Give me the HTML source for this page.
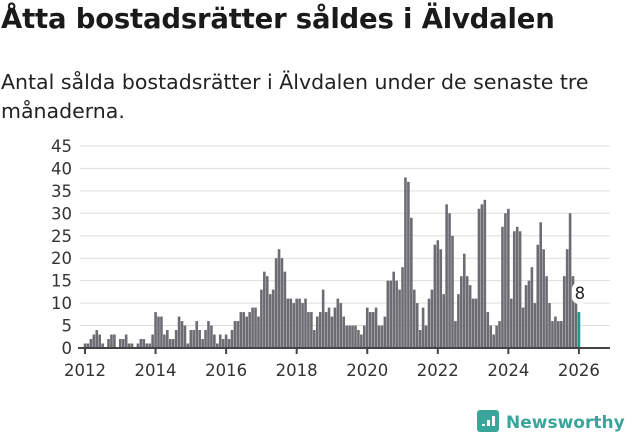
<!DOCTYPE html>
<html><head><meta charset="utf-8"><style>
body{margin:0;width:631px;height:439px;background:#fff;font-family:"DejaVu Sans","Liberation Sans",sans-serif;overflow:hidden;position:relative}
h1{position:absolute;left:1px;top:3px;margin:0;font-size:27.5px;font-weight:bold;color:#1a1a1a;letter-spacing:-0.2px}
p{position:absolute;left:1px;top:68px;margin:0;font-size:20.5px;line-height:29px;color:#222;width:628px}
svg{position:absolute;left:0;top:0}
</style></head><body>
<h1>Åtta bostadsrätter såldes i Älvdalen</h1>
<p>Antal sålda bostadsrätter i Älvdalen under de senaste tre månaderna.</p>
<svg id="c" width="631" height="439"></svg>
<script>
const startYear=2012;
const yTicks=[0,5,10,15,20,25,30,35,40,45];
const xTicks=[2012,2014,2016,2018,2020,2022,2024,2026];
const sales=[
1,1,2,3,4,3,1,0,2,3,3,
0,2,2,3,1,1,0,1,2,2,1,1,
3,8,7,7,3,4,2,2,4,7,6,5,
1,4,4,6,4,2,4,6,5,3,1,3,
2,3,2,4,6,6,8,8,7,8,9,9,
7,13,17,16,12,13,20,22,20,17,11,11,
10,11,11,10,11,8,8,4,7,8,13,8,
9,7,9,11,10,7,5,5,5,5,4,3,
5,9,8,8,9,5,5,7,15,15,17,15,
13,18,38,37,29,13,10,4,9,5,11,13,
23,24,22,12,32,30,25,6,12,16,21,16,
14,11,11,31,32,33,8,5,3,5,6,27,
30,31,11,26,27,26,9,14,15,18,10,
23,28,22,16,10,6,7,6,6,16,22,30,
16,11,8];
const NS="http://www.w3.org/2000/svg";
const svg=document.getElementById('c');
const x0=85,pxMonth=2.94,y0=348,pxUnit=4.49;
const xs=i=>x0+i*pxMonth;
const ys=v=>y0-v*pxUnit;
function mk(t,a){const e=document.createElementNS(NS,t);for(const k in a)e.setAttribute(k,a[k]);svg.appendChild(e);return e;}
yTicks.forEach(v=>{
  const l=mk('line',{x1:80,x2:610,y1:ys(v),y2:ys(v),stroke:'#ddd','stroke-width':1});
  
  
  const t=mk('text',{x:72,y:ys(v)+6,'text-anchor':'end','font-size':16.5,fill:'#333'});
  t.textContent=v;
  
  
});
sales.forEach((v,i)=>{
  const last=i===sales.length-1;
  const r=mk('rect',{x:xs(i)-1.3,y:ys(v),width:2.6,height:v*pxUnit,fill:last?'#1a9a8f':'#6c6c72'});
  
  
});
const lv=sales[sales.length-1],lx=xs(sales.length-1);
const bg=mk('rect',{x:lx-7,y:ys(lv)-30,width:15,height:22,rx:7,fill:'#fff'});


const vl=mk('text',{x:lx+1,y:ys(lv)-13,'text-anchor':'middle','font-size':16.5,fill:'#222'});
vl.textContent=lv;


const ax=mk('line',{x1:78,x2:610,y1:y0,y2:y0,stroke:'#444','stroke-width':2});


xTicks.forEach(yr=>{
  const x=xs((yr-startYear)*12);
  const tk=mk('line',{x1:x,x2:x,y1:y0,y2:y0+6,stroke:'#444','stroke-width':2});
  
  
  const t=mk('text',{x:x,y:376,'text-anchor':'middle','font-size':16.5,fill:'#333'});
  t.textContent=yr;
  
  
});
const logo=mk('rect',{x:477,y:410,width:22,height:22,rx:3,fill:'#3aa59a'});


[[482,424,4],[487,420,8],[492,416,12]].forEach(b=>{mk('rect',{x:b[0],y:b[1],width:3,height:b[2]-2,fill:'#fff'});});
const lt=mk('text',{x:506,y:428,'font-size':17,'font-weight':'bold',fill:'#3aa59a'});
lt.textContent='Newsworthy';


</script>
</body></html>
